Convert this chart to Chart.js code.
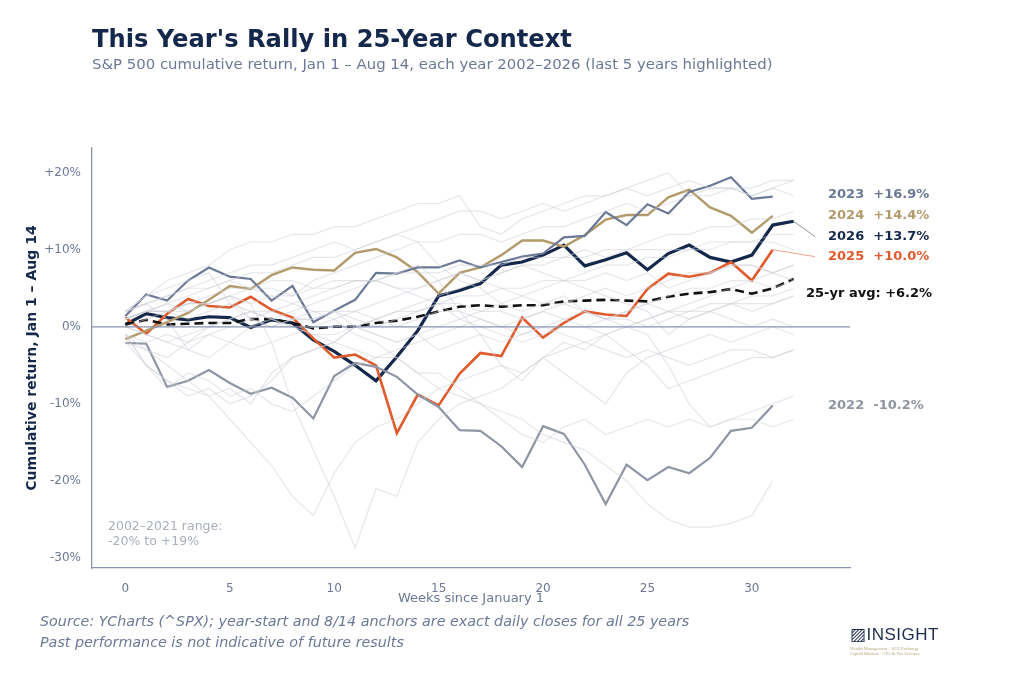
<!DOCTYPE html>
<html><head><meta charset="utf-8">
<script src="https://cdn.jsdelivr.net/npm/chart.js@4/dist/chart.umd.min.js"></script>
<style>
body{margin:0;width:1024px;height:676px;background:#fff;font-family:"DejaVu Sans",sans-serif;position:relative;overflow:hidden}
#c{position:absolute;left:0;top:0}
.t{position:absolute;left:92px;top:25px;font-size:24.2px;font-weight:bold;color:#14284b}
.s{position:absolute;left:92px;top:55px;font-size:14.9px;color:#6b7896}
.src{position:absolute;left:40px;top:611px;font-size:14.3px;font-style:italic;color:#6b7896;line-height:21px}
.logo{position:absolute;left:850px;top:624px;color:#1f2d4d;font-family:"Liberation Sans";font-size:17px;letter-spacing:0.5px}
.logo small{display:block;font-family:"Liberation Serif";font-size:4.5px;color:#b8a27a;letter-spacing:0;line-height:5px;margin-top:1px}
</style></head><body>
<canvas id="c" width="1024" height="676"></canvas>
<div class="t">This Year's Rally in 25-Year Context</div>
<div class="s">S&amp;P 500 cumulative return, Jan 1 – Aug 14, each year 2002–2026 (last 5 years highlighted)</div>
<div class="src">Source: YCharts (^SPX); year-start and 8/14 anchors are exact daily closes for all 25 years<br>Past performance is not indicative of future results</div>
<div class="logo"><b style="font-weight:normal">▨INSIGHT</b><small>Wealth Management · 1031 Exchange<br>Capital Markets · CPA &amp; Tax Services</small></div>
<script>
const weeks = Array.from({length:33},(_, i)=>i);
const y2026=[0.3,1.7,1.2,0.9,1.3,1.2,-0.1,0.9,0.5,-1.7,-3.2,-5,-7,-3.9,-0.5,4.0,4.7,5.6,8.0,8.4,9.3,10.6,7.9,8.7,9.6,7.4,9.5,10.6,9.0,8.4,9.3,13.2,13.7];
const y2025=[1.2,-0.9,1.7,3.6,2.7,2.5,3.9,2.2,1.2,-1.5,-4.0,-3.6,-5,-13.8,-8.8,-10.2,-6.1,-3.4,-3.8,1.2,-1.4,0.5,2,1.6,1.4,4.9,6.9,6.5,7,8.4,6,10.0];
const y2024=[-1.6,-0.5,0.6,1.8,3.5,5.3,4.9,6.7,7.7,7.4,7.3,9.6,10.1,9.0,7.1,4.3,7.0,7.7,9.3,11.2,11.2,10.4,11.9,13.9,14.5,14.5,16.8,17.8,15.5,14.4,12.2,14.4];
const y2023=[1.4,4.2,3.4,6,7.7,6.5,6.2,3.4,5.3,0.6,2.1,3.5,7,6.9,7.7,7.7,8.6,7.7,8.4,9.1,9.5,11.6,11.8,14.9,13.2,15.9,14.7,17.5,18.3,19.4,16.6,16.9];
const y2022=[-2.1,-2.2,-7.8,-7,-5.6,-7.3,-8.7,-7.9,-9.2,-11.9,-6.4,-4.7,-5.2,-6.5,-8.8,-10.4,-13.4,-13.5,-15.5,-18.2,-12.9,-13.9,-17.9,-23,-17.9,-19.9,-18.2,-19,-17,-13.5,-13.1,-10.2];
const avg=[0.3,0.9,0.3,0.4,0.5,0.5,1.0,1.0,0.5,-0.2,0,0,0.5,0.8,1.3,2.0,2.6,2.8,2.6,2.8,2.8,3.3,3.4,3.5,3.4,3.3,3.9,4.3,4.5,4.9,4.3,5.0,6.2];
const bg2002=[0,-1,-2,-3,-1,-2,-3,-2,-1,0,1,-1,-2,-4,-6,-8,-9,-10,-11,-12,-14,-15,-16,-18,-20,-23,-25,-26,-26,-25.5,-24.5,-20];
const bg2003=[-2,-3,-5,-7,-9,-8,-10,-6,-4,-3,-2,0,1,2,3,4,5,6,7,8,8,9,10,9,10,11,12,12,13,13,14,14,15];
const bg2004=[1,2,2,1,2,3,2,1,0,-1,-1,0,-1,-2,-1,-3,-2,-1,-2,-1,0,-1,-2,-3,-4,-3,-4,-5,-4,-3,-3,-4,-3];
const bg2005=[0,-1,-2,-1,0,1,2,1,0,-1,-2,-3,-4,-3,-2,-1,0,1,0,-1,0,1,2,1,2,3,2,1,2,1,0,1,0];
const bg2006=[1,2,2,3,3,4,3,4,4,5,5,6,6,5,4,3,1,0,-1,-2,-1,0,0,1,1,0,1,2,2,3,3,3,4];
const bg2007=[1,2,2,3,3,4,1,0,1,2,1,2,3,4,5,6,7,6,7,8,7,6,5,4,3,2,-1,1,2,3,2,3,4];
const bg2008=[-1,-5,-8,-6,-7,-9,-8,-10,-11,-9,-7,-5,-4,-4,-6,-6,-8,-10,-12,-14,-15,-13,-12,-14,-13,-12,-13,-12,-13,-12,-12,-13,-12];
const bg2009=[-2,-5,-7,-8,-9,-12,-15,-18,-22,-24.5,-19,-15,-13,-12,-10,-8,-7,-6,-5,-6,-4,-3,-2,-1,0,1,2,3,4,5,6,7,8];
const bg2010=[2,3,1,-3,-4,-2,0,1,2,3,4,5,6,7,8,6,2,-1,-5,-7,-4,-6,-8,-10,-6,-4,-3,-2,-1,-2,-1,0,-1];
const bg2011=[1,2,3,4,5,6,5,4,3,4,5,6,6,5,5,6,7,6,5,4,3,4,2,1,0,-1,-5,-10,-13,-12,-11,-10,-9];
const bg2012=[2,3,4,5,6,7,8,8,9,10,11,10,11,12,11,8,6,5,3,4,5,6,7,8,8,9,9,10,10,11,11,12,12];
const bg2013=[2,3,4,5,5,6,7,7,8,9,9,10,11,12,13,14,15,15,14,15,16,15,16,17,18,17,18,19,18,18,17,18,17];
const bg2014=[-1,-3,-4,-2,-1,0,1,0,1,1,2,1,0,1,2,3,4,4,5,5,6,6,6,7,6,7,5,6,7,8,8,7,8];
const bg2015=[-1,-2,-1,-2,0,1,2,2,1,1,2,2,1,2,2,3,3,2,2,1,2,1,0,-1,-3,-5,-8,-7,-6,-5,-4,-4,-3];
const bg2016=[-1,-5,-7,-9,-8,-10,-9,-7,-4,-3,-2,0,1,0,1,2,2,1,0,1,2,3,2,1,2,3,4,5,5,6,6,5,6];
const bg2017=[1,2,2,3,4,5,5,6,6,5,6,6,6,7,7,7,8,8,8,9,9,9,9,10,10,10,10,10,11,11,11,11,10];
const bg2018=[2,4,5,6,7,3,1,2,3,2,2,0,-1,-2,-1,0,1,2,3,2,3,3,4,5,4,5,6,7,7,8,8,7,6];
const bg2019=[2,4,6,7,8,10,11,11,12,12,13,13,14,15,16,16,17,13,12,14,15,16,17,17,18,19,20,17,18,18,17,18,19];
const bg2020=[0,1,2,2,3,4,3,-2,-10,-16,-22,-28.7,-21,-22,-15,-12,-10,-9,-8,-6,-4,-2,-3,-1,0,1,2,2,3,3,4,4,5];
const bg2021=[1,2,3,2,3,4,5,5,4,6,7,8,9,10,11,11,12,12,11,12,13,13,14,15,16,15,16,17,17,18,18,19,19];
const bgYears=[bg2002,bg2003,bg2004,bg2005,bg2006,bg2007,bg2008,bg2009,bg2010,bg2011,bg2012,bg2013,bg2014,bg2015,bg2016,bg2017,bg2018,bg2019,bg2020,bg2021];
const yTicks=[-30,-20,-10,0,10,20];
const xTicks=[0,5,10,15,20,25,30];
const labels=[
 {t:'2023  +16.9%',v:17.2,c:'#6b7896'},
 {t:'2024  +14.4%',v:14.4,c:'#b39a6b'},
 {t:'2026  +13.7%',v:11.7,c:'#14284b'},
 {t:'2025  +10.0%',v:9.1,c:'#e05a2b'},
 {t:'2022  -10.2%',v:-10.2,c:'#8e96a4'}];
const pts=a=>a.map((v,i)=>({x:i,y:v}));
const ds=bgYears.map(a=>({data:pts(a),borderColor:'rgba(205,208,216,0.5)',borderWidth:1.2,pointRadius:0,tension:0}));
ds.push({data:pts(y2022),borderColor:'#8e96a4',borderWidth:2.2,pointRadius:0});
ds.push({data:pts(y2023),borderColor:'#6b7896',borderWidth:2.2,pointRadius:0});
ds.push({data:pts(y2024),borderColor:'#b39a6b',borderWidth:2.4,pointRadius:0});
ds.push({data:pts(avg),borderColor:'#111',borderWidth:2.6,borderDash:[9,5],pointRadius:0});
ds.push({data:pts(y2025),borderColor:'#e05a2b',borderWidth:2.6,pointRadius:0});
ds.push({data:pts(y2026),borderColor:'#14284b',borderWidth:3.2,pointRadius:0});
const deco={id:'deco',afterDatasetsDraw(ch){
 const {ctx,scales:{x,y},chartArea:a}=ch;
 ctx.save();
 ctx.strokeStyle='#8a94b0';ctx.lineWidth=1.3;
 ctx.beginPath();ctx.moveTo(a.left,y.getPixelForValue(0));ctx.lineTo(a.right,y.getPixelForValue(0));ctx.stroke();
 ctx.lineWidth=1;ctx.strokeStyle='#8e96a4';
 ctx.beginPath();ctx.moveTo(x.getPixelForValue(32),y.getPixelForValue(13.7));ctx.lineTo(815,y.getPixelForValue(11.7));ctx.stroke();
 ctx.strokeStyle='#f0a58a';
 ctx.beginPath();ctx.moveTo(x.getPixelForValue(31),y.getPixelForValue(10));ctx.lineTo(815,y.getPixelForValue(9.1));ctx.stroke();
 ctx.font='bold 13px "DejaVu Sans"';ctx.textBaseline='middle';
 labels.forEach(l=>{ctx.fillStyle=l.c;ctx.fillText(l.t,828,y.getPixelForValue(l.v));});
 ctx.fillStyle='#111';ctx.fillText('25-yr avg: +6.2%',806,y.getPixelForValue(4.3));
 ctx.font='12.5px "DejaVu Sans"';ctx.fillStyle='#a8aebb';ctx.textBaseline='alphabetic';
 ctx.fillText('2002–2021 range:',108,530);ctx.fillText('-20% to +19%',108,545);
 ctx.restore();}};
new Chart(document.getElementById('c'),{type:'line',data:{datasets:ds},plugins:[deco],
options:{responsive:false,animation:false,events:[],
 layout:{padding:{left:20,top:148,right:174,bottom:66}},
 plugins:{legend:{display:false},tooltip:{enabled:false}},
 scales:{
  x:{type:'linear',min:-1.6,max:34.7,grid:{display:false},border:{color:'#8a94b0',width:1.3},
   afterBuildTicks:s=>{s.ticks=xTicks.map(v=>({value:v}));},afterFit:s=>{s.height=42;},
   ticks:{color:'#6b7896',font:{size:12,family:'DejaVu Sans'},padding:6},
   title:{display:true,text:'Weeks since January 1',color:'#6b7896',font:{size:13,family:'DejaVu Sans'},padding:{top:2}}},
  y:{min:-31.3,max:23.2,grid:{display:false},border:{color:'#8a94b0',width:1.3},
   afterBuildTicks:s=>{s.ticks=yTicks.map(v=>({value:v}));},afterFit:s=>{s.width=72;},
   ticks:{color:'#6b7896',font:{size:12,family:'DejaVu Sans'},callback:v=>(v>0?'+':'')+v+'%'},
   title:{display:true,text:'Cumulative return, Jan 1 – Aug 14',color:'#14284b',font:{size:14,weight:'bold',family:'DejaVu Sans'}}}}}});
</script></body></html>
